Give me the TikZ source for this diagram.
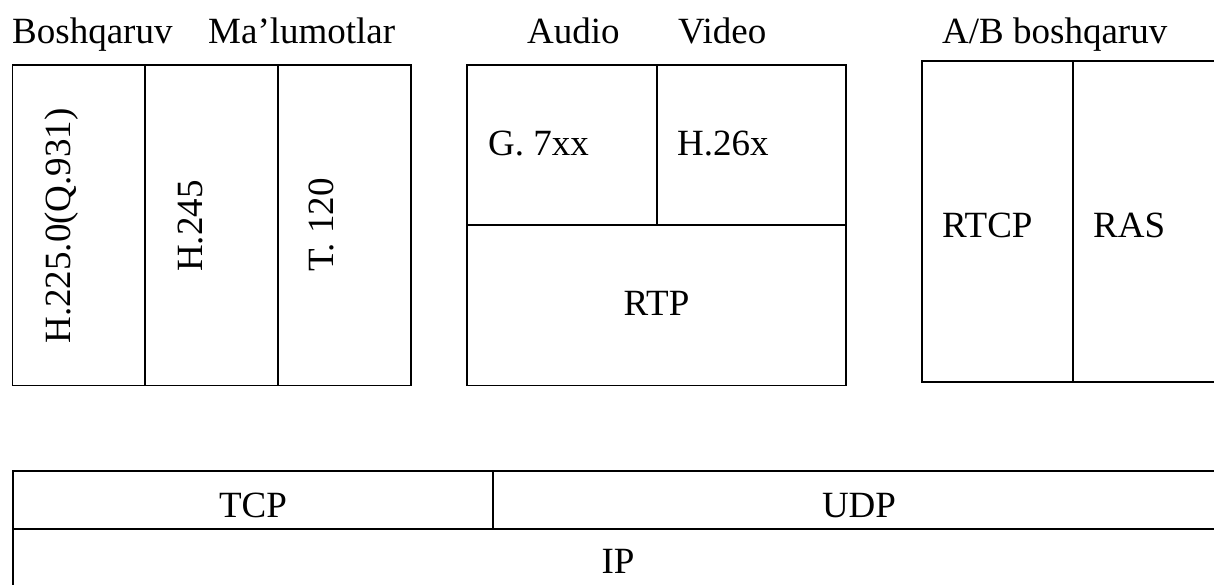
\documentclass[tikz,border=0pt]{standalone}
\usepackage{fontspec}
\setmainfont{Liberation Serif}
\usetikzlibrary{fit}
\begin{document}
\begin{tikzpicture}[x=1pt,y=-1pt,
  cell/.style={draw=black,line width=1.3pt,inner sep=0pt,rectangle},
  cellb/.style={cell,line width=1.6pt},
  cellc/.style={cell,line width=2pt},
  lbl/.style={font=\fontsize{37}{40}\selectfont,inner sep=0pt},
  vlbl/.style={lbl,rotate=90,anchor=base}]
\useasboundingbox (0,0) rectangle (1214,584);
\clip (0,0) rectangle (1214,584);
% left group
\node[cell,fit={(12.5,65)(145,385.5)}] (c1) {};
\node[cell,fit={(145,65)(278,385.5)}] (c2) {};
\node[cell,fit={(278,65)(411,385.5)}] (c3) {};
% middle group
\node[cell,fit={(467,65)(657,225)}] (m1) {};
\node[cell,fit={(657,65)(846,225)}] (m2) {};
\node[cell,fit={(467,225)(846,385.5)}] (m3) {};
% right group
\node[cellb,fit={(922,61)(1073,382)}] (r1) {};
\node[cellb,fit={(1073,61)(1240,382)}] (r2) {};
% bottom
\node[cellc,fit={(12.5,471)(493,529)}] (tcp) {};
\node[cellc,fit={(493,471)(1240,529)}] (udp) {};
\node[cellc,fit={(12.5,529)(1240,650)}] (ip) {};
% titles
\node[lbl,anchor=base west] (t1) at (12,43) {Boshqaruv};
\node[lbl,anchor=base west] (t2) at (208,43) {Ma’lumotlar};
\node[lbl,anchor=base west] (t3) at (527,43) {Audio};
\node[lbl,anchor=base west] (t4) at (678,43) {Video};
\node[lbl,anchor=base west] (t5) at (942,43) {A/B boshqaruv};
% cell labels
\node[vlbl] (l1) at (70,226) {H.225.0(Q.931)};
\node[vlbl] (l2) at (202,226) {H.245};
\node[vlbl] (l3) at (333,225) {T. 120};
\node[lbl,anchor=base west] (l4) at (488,155) {G. 7xx};
\node[lbl,anchor=base west] (l5) at (677,155) {H.26x};
\node[lbl,anchor=base] (l6) at (656.5,315) {RTP};
\node[lbl,anchor=base west] (l7) at (942,237) {RTCP};
\node[lbl,anchor=base west] (l8) at (1093,237) {RAS};
\node[lbl,anchor=base] (l9) at (253,517) {TCP};
\node[lbl,anchor=base] (l10) at (859,517) {UDP};
\node[lbl,anchor=base] (l11) at (618,573) {IP};
\end{tikzpicture}
\end{document}
